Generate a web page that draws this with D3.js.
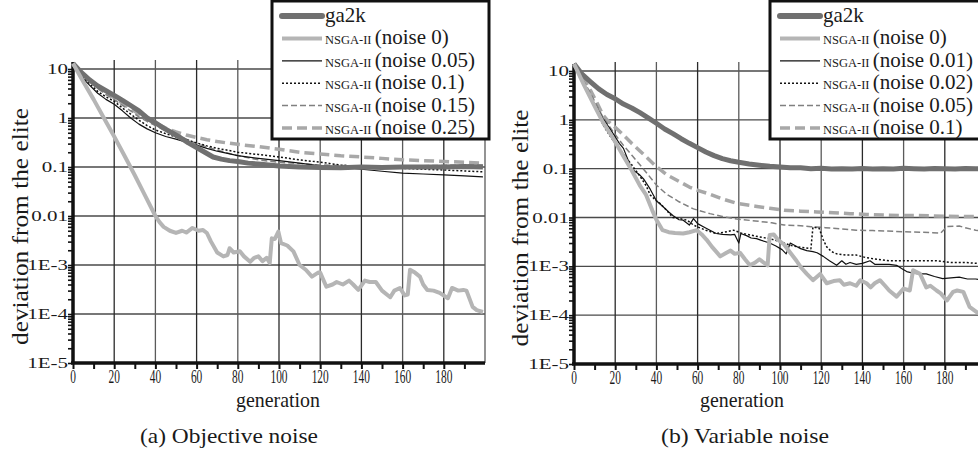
<!DOCTYPE html>
<html>
<head>
<meta charset="utf-8">
<script src="https://cdn.jsdelivr.net/npm/d3@7"></script>
<style>
  body { margin: 0; background: #fff; }
  svg text { font-family: "Liberation Serif", "Times New Roman", Times, serif; fill: #1a1a1a; }
</style>
</head>
<body>
<div id="chart"></div>
<script>
// Deviation-from-elite curves, [generation, value]

// (a) Objective noise
const objGa2k = [[0,13],[4,8.5],[8,6],[12,4.5],[16,3.6],[20,2.9],[24,2.3],[28,1.8],[32,1.4],[36,1.0],[40,0.8],[44,0.62],[48,0.5],[52,0.4],[56,0.31],[60,0.25],[64,0.2],[68,0.16],[72,0.145],[76,0.135],[80,0.13],[85,0.12],[90,0.115],[95,0.11],[100,0.105],[110,0.1],[120,0.098],[130,0.097],[140,0.1],[150,0.098],[160,0.1],[170,0.1],[180,0.1],[190,0.102],[199,0.1]];
const objNoise0 = [[0,13],[5,5.5],[10,2.4],[15,1.0],[20,0.42],[25,0.17],[30,0.068],[35,0.026],[40,0.01],[42,0.0075],[44,0.006],[47,0.005],[50,0.0045],[53,0.005],[55,0.0046],[58,0.0057],[61,0.005],[63,0.0052],[65,0.0045],[67,0.003],[70,0.0018],[73,0.0015],[75,0.0016],[76,0.0022],[78,0.0018],[81,0.0019],[83,0.0015],[86,0.00117],[88,0.0014],[90,0.0015],[92,0.0012],[94,0.0014],[95.5,0.0011],[96.5,0.0035],[98,0.0034],[99.7,0.0048],[101,0.0028],[104,0.0025],[107,0.0019],[110,0.001],[113,0.0008],[116,0.00058],[119,0.0007],[120,0.0007],[123,0.00036],[126,0.0004],[128,0.00045],[131,0.0004],[134,0.00048],[136,0.0004],[138.5,0.00031],[141.7,0.00048],[144,0.00045],[147,0.00045],[150,0.0003],[154,0.00022],[156,0.0003],[158.7,0.00034],[161,0.00024],[162.5,0.00025],[163.6,0.0008],[166,0.0007],[168.4,0.00058],[170,0.0004],[172,0.00031],[175,0.0003],[178,0.00027],[182,0.00021],[184,0.00034],[187,0.0003],[189.5,0.00031],[191,0.0003],[194,0.00014],[196,0.00012],[199,0.00011]];
const objNoise005 = [[0,13],[4,7],[8,4.7],[12,3.2],[16,2.4],[20,1.9],[24,1.4],[28,1.0],[32,0.75],[36,0.6],[40,0.5],[45,0.42],[50,0.37],[55,0.32],[60,0.28],[65,0.24],[70,0.21],[75,0.19],[80,0.17],[90,0.15],[100,0.135],[110,0.12],[120,0.105],[130,0.1],[140,0.09],[150,0.082],[160,0.075],[170,0.072],[180,0.069],[190,0.066],[199,0.063]];
const objNoise01 = [[0,13],[4,7.5],[8,5],[12,3.5],[16,2.7],[20,2.2],[24,1.6],[28,1.2],[32,0.9],[36,0.7],[40,0.57],[45,0.48],[50,0.41],[55,0.36],[60,0.31],[65,0.27],[70,0.24],[75,0.22],[80,0.2],[90,0.18],[100,0.16],[110,0.14],[120,0.125],[130,0.11],[140,0.1],[150,0.097],[160,0.094],[170,0.09],[180,0.087],[190,0.083],[199,0.08]];
const objNoise015 = [[0,13],[4,8],[8,5.5],[12,4],[16,3.0],[20,2.4],[24,1.8],[28,1.4],[32,1.05],[36,0.85],[40,0.7],[45,0.56],[50,0.46],[55,0.37],[60,0.3],[70,0.22],[80,0.17],[90,0.14],[100,0.125],[120,0.11],[140,0.105],[160,0.105],[180,0.108],[199,0.11]];
const objNoise025 = [[0,13],[4,8.5],[8,6],[12,4.3],[16,3.3],[20,2.6],[24,2.0],[28,1.55],[32,1.2],[36,0.95],[40,0.78],[45,0.62],[50,0.52],[55,0.45],[60,0.4],[65,0.36],[70,0.33],[80,0.29],[90,0.26],[100,0.23],[110,0.2],[120,0.185],[130,0.17],[140,0.16],[150,0.15],[160,0.14],[170,0.135],[180,0.13],[190,0.125],[199,0.12]];

// (b) Variable noise
const varGa2k = [[0,14],[4,8.5],[8,6],[12,4.3],[16,3.3],[20,2.7],[24,2.1],[28,1.75],[32,1.4],[36,1.1],[40,0.85],[44,0.65],[48,0.52],[52,0.41],[56,0.33],[60,0.27],[64,0.22],[68,0.185],[72,0.16],[76,0.145],[80,0.135],[85,0.125],[90,0.118],[95,0.112],[100,0.108],[105,0.105],[110,0.104],[115,0.1],[120,0.102],[125,0.099],[130,0.1],[135,0.098],[140,0.101],[145,0.099],[150,0.1],[155,0.098],[160,0.102],[165,0.1],[170,0.099],[175,0.101],[180,0.1],[185,0.099],[190,0.101],[195,0.1],[199,0.1]];
const varNoise0 = [[0,14],[5,5],[10,1.9],[14,0.9],[19,0.42],[24,0.18],[28,0.093],[32,0.045],[35,0.029],[38,0.014],[40,0.009],[43,0.0055],[46,0.005],[49,0.0048],[53,0.0047],[56,0.005],[59.6,0.0055],[62,0.0045],[64.4,0.0035],[67,0.0025],[71,0.0016],[74,0.0019],[76,0.0021],[78,0.0018],[80.6,0.0019],[83,0.0014],[85.4,0.00105],[88,0.0012],[90,0.0014],[92,0.0012],[94,0.00105],[95,0.0044],[97,0.0045],[99,0.0035],[102,0.0028],[105,0.0019],[108,0.0013],[110,0.00097],[113,0.0007],[116,0.00052],[119.5,0.0007],[122.7,0.00045],[126,0.0005],[129,0.00052],[131,0.00042],[134,0.00045],[137,0.0004],[139,0.00052],[142,0.00045],[144,0.00037],[146,0.00045],[148.5,0.00052],[151,0.0004],[153,0.00032],[156.6,0.00024],[160,0.00035],[163,0.00032],[164.6,0.00083],[168,0.0007],[171,0.00037],[173,0.0004],[176,0.00032],[178,0.00028],[181,0.0002],[184,0.0003],[186,0.00032],[189,0.0003],[192,0.000148],[195.5,0.000115],[199,0.0001]];
const varNoise001 = [[0,14],[4,6],[8,3],[11,1.8],[14,1.07],[17,0.7],[19,0.52],[22,0.33],[24,0.26],[26,0.16],[28,0.1],[30,0.085],[32,0.074],[34,0.06],[37,0.038],[40,0.022],[43,0.017],[46,0.013],[48,0.011],[51,0.009],[53,0.0088],[56,0.007],[58,0.0095],[60,0.0075],[63,0.0064],[66,0.0055],[69,0.0047],[72,0.0045],[76,0.0044],[78,0.0045],[80,0.003],[81,0.0047],[84,0.0042],[86,0.0038],[88.6,0.0037],[91,0.0034],[95,0.003],[98,0.0026],[101,0.0022],[103,0.0018],[105,0.003],[107,0.0027],[110,0.0023],[113,0.0021],[116,0.002],[118,0.0019],[121,0.0016],[124,0.0013],[127.5,0.00105],[130,0.0013],[132,0.0011],[134,0.0012],[137,0.0011],[140,0.00115],[143.7,0.0013],[146,0.0011],[150,0.0011],[153,0.0011],[156.6,0.00105],[159,0.0009],[161.5,0.00078],[165,0.00072],[168,0.0007],[171,0.0007],[175,0.00062],[179,0.00056],[183,0.00058],[187,0.0006],[191,0.00055],[195,0.00055],[199,0.00052]];
const varNoise002 = [[0,14],[4,6],[8,2.8],[11,1.6],[14,0.8],[17,0.5],[20,0.33],[24,0.2],[28,0.12],[32,0.07],[35,0.045],[37,0.029],[40,0.022],[42,0.019],[45,0.014],[48,0.01],[51,0.0095],[55,0.0088],[58,0.007],[60,0.0064],[64,0.0055],[69,0.0047],[73,0.005],[77.5,0.0055],[81,0.0048],[85.4,0.0044],[90,0.004],[95,0.0037],[99,0.0033],[102,0.003],[105,0.0027],[108.6,0.0025],[112,0.0024],[115,0.0023],[116,0.0064],[119,0.006],[121,0.0035],[122.7,0.0025],[125,0.002],[127.5,0.0018],[132,0.0017],[137,0.0017],[142,0.0015],[147,0.0014],[153,0.0013],[160,0.0013],[168,0.0013],[176,0.0013],[183,0.0012],[190,0.0012],[195.5,0.00115],[199,0.00115]];
const varNoise005 = [[0,14],[4,7],[8,3.5],[11,2.0],[14,1.15],[17,0.75],[20,0.5],[24,0.3],[28,0.19],[32,0.12],[36,0.075],[40,0.046],[45,0.03],[51,0.021],[58,0.015],[66,0.012],[72,0.0105],[79,0.0093],[88,0.0085],[96,0.0078],[102,0.007],[110,0.0068],[115,0.0065],[122,0.0062],[130,0.0058],[137,0.0055],[145,0.0054],[152,0.0053],[160,0.0051],[168,0.005],[174,0.0049],[178,0.0048],[181,0.0065],[187,0.0067],[191,0.006],[195,0.0055],[199,0.0052]];
const varNoise01 = [[0,14],[4,7.5],[8,4],[11,2.3],[14,1.26],[17,0.9],[20,0.7],[24,0.49],[28,0.33],[32,0.23],[36,0.16],[40,0.11],[45,0.075],[51,0.055],[56,0.042],[60,0.036],[66,0.03],[72,0.024],[79,0.0195],[88,0.017],[95,0.0155],[102,0.014],[110,0.0135],[118,0.013],[126,0.0125],[134,0.012],[142,0.0115],[150,0.0112],[158,0.011],[166,0.011],[174,0.0108],[182,0.0106],[190,0.0105],[199,0.0104]];

const xTickLabels = [0, 20, 40, 60, 80, 100, 120, 140, 160, 180];
const xGridValues = [20, 40, 60, 80, 100, 120, 140, 160, 180, 200];
const xMinorTicks = [0, 10, 20, 30, 40, 50, 60, 70, 80, 90, 100, 110, 120, 130, 140, 150, 160, 170, 180, 190];
const yTickValues = [10, 1, 0.1, 0.01, 1e-3, 1e-4, 1e-5];
const yTickLabels = ['10', '1', '0.1', '0.01', '1E-3', '1E-4', '1E-5'];
const objLegend = ['ga2k', '(noise 0)', '(noise 0.05)', '(noise 0.1)', '(noise 0.15)', '(noise 0.25)'];
const varLegend = ['ga2k', '(noise 0)', '(noise 0.01)', '(noise 0.02)', '(noise 0.05)', '(noise 0.1)'];

// line styles, one per series slot
const styles = [
  { color: '#707070', width: 5, dash: null },
  { color: '#b5b5b5', width: 4, dash: null },
  { color: '#111', width: 1.2, dash: null },
  { color: '#111', width: 1.5, dash: '2,2' },
  { color: '#808080', width: 1.5, dash: '6,3' },
  { color: '#a8a8a8', width: 3.5, dash: '10,5' }
];

const panels = [
  {
    series: [objGa2k, objNoise0, objNoise005, objNoise01, objNoise015, objNoise025],
    legend: objLegend,
    left: 73, right: 485, top10: 69, bottom: 363, gridTop: 60,
    legendX: 272, legendW: 217,
    titleX: 28, xTitleX: 278, caption: '(a) Objective noise', captionX: 229, captionLen: 178
  },
  {
    series: [varGa2k, varNoise0, varNoise001, varNoise002, varNoise005, varNoise01],
    legend: varLegend,
    left: 574, right: 986, top10: 71, bottom: 364, gridTop: 62,
    legendX: 770, legendW: 220,
    titleX: 528, xTitleX: 742, caption: '(b) Variable noise', captionX: 745, captionLen: 168
  }
];

const svg = d3.select('#chart').append('svg')
  .attr('width', 978)
  .attr('height', 464)
  .style('font-family', '"Liberation Serif", "Times New Roman", Times, serif');

function renderPanel(p) {
  const g = svg.append('g');

  const x = d3.scaleLinear().domain([0, 200]).range([p.left, p.right]);
  const y = d3.scaleLog().domain([1e-5, 10]).range([p.bottom, p.top10]);

  // Grid
  g.selectAll('.hgrid')
    .data(yTickValues.slice(0, 6))
    .enter()
    .append('line')
    .attr('x1', p.left).attr('x2', p.right)
    .attr('y1', d => y(d)).attr('y2', d => y(d))
    .attr('stroke', '#4a4a4a')
    .attr('stroke-width', 1.3);

  g.selectAll('.vgrid')
    .data(xGridValues)
    .enter()
    .append('line')
    .attr('x1', d => x(d)).attr('x2', d => x(d))
    .attr('y1', p.gridTop).attr('y2', p.bottom)
    .attr('stroke', (d, i) => i % 2 ? '#5a5a5a' : '#2a2a2a')
    .attr('stroke-width', 1.3);

  // Minor log ticks on the y axis
  const minor = [];
  yTickValues.slice(0, 6).forEach(v => {
    for (let k = 2; k <= 9; k++) minor.push(v / 10 * k);
  });
  g.append('g')
    .attr('transform', `translate(${p.left},0)`)
    .call(d3.axisLeft(y).tickValues(minor.concat(yTickValues)).tickSize(5).tickSizeOuter(0).tickFormat(''))
    .call(a => a.select('.domain').remove())
    .call(a => a.selectAll('line').attr('stroke', '#111').attr('stroke-width', 1.6));

  g.append('line')
    .attr('x1', p.left).attr('x2', p.left)
    .attr('y1', p.gridTop + 2).attr('y2', p.bottom + 1)
    .attr('stroke', '#111').attr('stroke-width', 3.5);

  // X axis
  g.append('g')
    .attr('transform', `translate(0,${p.bottom})`)
    .call(d3.axisBottom(x).tickValues(xMinorTicks).tickSize(6).tickSizeOuter(0).tickFormat(''))
    .call(a => a.select('.domain').remove())
    .call(a => a.selectAll('line').attr('stroke', '#111').attr('stroke-width', 2));

  g.append('line')
    .attr('x1', p.left - 2).attr('x2', p.right)
    .attr('y1', p.bottom).attr('y2', p.bottom)
    .attr('stroke', '#111').attr('stroke-width', 3.5);

  // Tick labels
  g.selectAll('.ylab')
    .data(yTickValues)
    .enter()
    .append('text')
    .attr('transform', d => `translate(${p.left - 5},${y(d) + 5}) scale(1.4,1)`)
    .attr('text-anchor', 'end')
    .style('font-size', '15px')
    .text((d, i) => yTickLabels[i]);

  g.selectAll('.xlab')
    .data(xTickLabels)
    .enter()
    .append('text')
    .attr('transform', d => `translate(${x(d)},${p.bottom + 20}) scale(0.6,1)`)
    .attr('text-anchor', 'middle')
    .style('font-size', '19px')
    .text(d => d);

  // Series
  const line = d3.line()
    .x(d => x(d[0]))
    .y(d => y(d[1]));

  const order = [5, 4, 3, 2, 0, 1];
  order.forEach(i => {
    const s = styles[i];
    g.append('path')
      .datum(p.series[i])
      .attr('fill', 'none')
      .attr('stroke', s.color)
      .attr('stroke-width', s.width)
      .attr('stroke-dasharray', s.dash)
      .attr('stroke-linejoin', 'round')
      .attr('d', line);
  });

  // Legend
  const lg = g.append('g').attr('transform', `translate(${p.legendX},1)`);
  lg.append('rect')
    .attr('x', 0).attr('y', 0)
    .attr('width', p.legendW).attr('height', 138)
    .attr('fill', '#fff')
    .attr('stroke', '#111')
    .attr('stroke-width', 3);

  p.legend.forEach((label, i) => {
    const ly = 15 + i * 22.4;
    const s = styles[i];
    lg.append('line')
      .attr('x1', 10).attr('x2', 50)
      .attr('y1', ly).attr('y2', ly)
      .attr('stroke', s.color)
      .attr('stroke-width', i === 0 ? 6 : s.width)
      .attr('stroke-linecap', i === 0 ? 'round' : 'butt')
      .attr('stroke-dasharray', s.dash);
    const t = lg.append('text')
      .attr('x', 53)
      .attr('y', ly + 6)
      .style('font-size', '21px');
    if (i === 0) {
      t.text(label);
    } else {
      t.append('tspan').style('font-size', '12.5px').text('NSGA-II ');
      t.append('tspan').text(label);
    }
  });

  // Titles
  svg.append('text')
    .attr('transform', `translate(${p.titleX},${(p.gridTop + p.bottom) / 2 + 15}) rotate(-90)`)
    .attr('text-anchor', 'middle')
    .attr('textLength', 237)
    .attr('lengthAdjust', 'spacingAndGlyphs')
    .style('font-size', '23px')
    .text('deviation from the elite');

  svg.append('text')
    .attr('x', p.xTitleX)
    .attr('y', 407)
    .attr('text-anchor', 'middle')
    .attr('textLength', 84)
    .attr('lengthAdjust', 'spacingAndGlyphs')
    .style('font-size', '22px')
    .text('generation');

  svg.append('text')
    .attr('x', p.captionX)
    .attr('y', 443)
    .attr('text-anchor', 'middle')
    .attr('textLength', p.captionLen)
    .attr('lengthAdjust', 'spacingAndGlyphs')
    .style('font-size', '22px')
    .text(p.caption);
}

panels.forEach(renderPanel);
</script>
</body>
</html>
